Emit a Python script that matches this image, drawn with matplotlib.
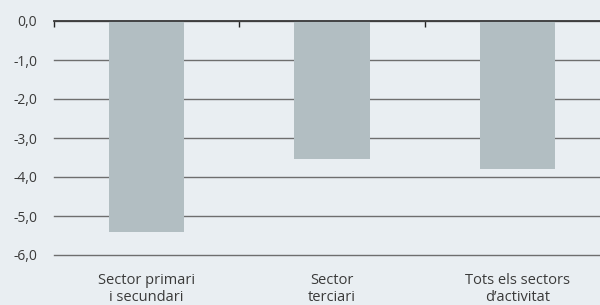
import matplotlib
matplotlib.use("Agg")
import matplotlib.pyplot as plt
import numpy as np

categories = ["Sector primari\ni secundari", "Sector\nterciari", "Tots els sectors\nd\u2019activitat"]
values = [-5.4, -3.53, -3.79]
yticks = [0, -1, -2, -3, -4, -5, -6]
ytick_labels = ["0,0", "-1,0", "-2,0", "-3,0", "-4,0", "-5,0", "-6,0"]

bg = "#E9EEF2"
plt.rcParams['font.family'] = ['Open Sans', 'DejaVu Sans']

fig = plt.figure(figsize=(6.0, 3.05), dpi=100, facecolor=bg)
ax = fig.add_axes([54/600, 1-255/305, (610-54)/600, (255-21)/305])
ax.set_facecolor(bg)

x = np.arange(len(categories))
ax.bar(x, values, width=0.405, color="#B2BEC2", zorder=1)

ax.set_xlim(-0.5, 2.5)
ax.set_ylim(-6, 0)

ax.set_yticks(yticks)
ax.set_yticklabels(ytick_labels, fontsize=10, color="#3A3A3A")
ax.tick_params(axis='y', length=0, pad=12)

ax.set_xticks(x)
ax.set_xticklabels(categories, fontsize=10.5, color="#3A3A3A", linespacing=1.2)
ax.tick_params(axis='x', which='major', length=0, pad=13)
ax.set_xticks([-0.5, 0.5, 1.5, 2.5], minor=True)
ax.tick_params(axis='x', which='minor', top=True, bottom=False, direction='in',
               length=4, width=1, color="#222222")

ax.set_axisbelow(True)
ax.yaxis.grid(True, color="#6E6E6E", linewidth=1.0)
for gl in ax.get_ygridlines():
    gl.set_clip_on(False)

for s in ['left', 'right', 'bottom']:
    ax.spines[s].set_visible(False)
ax.spines['top'].set_color("#3A3A3A")
ax.spines['top'].set_linewidth(1.3)

fig.savefig("out.png", dpi=100, facecolor=bg)
